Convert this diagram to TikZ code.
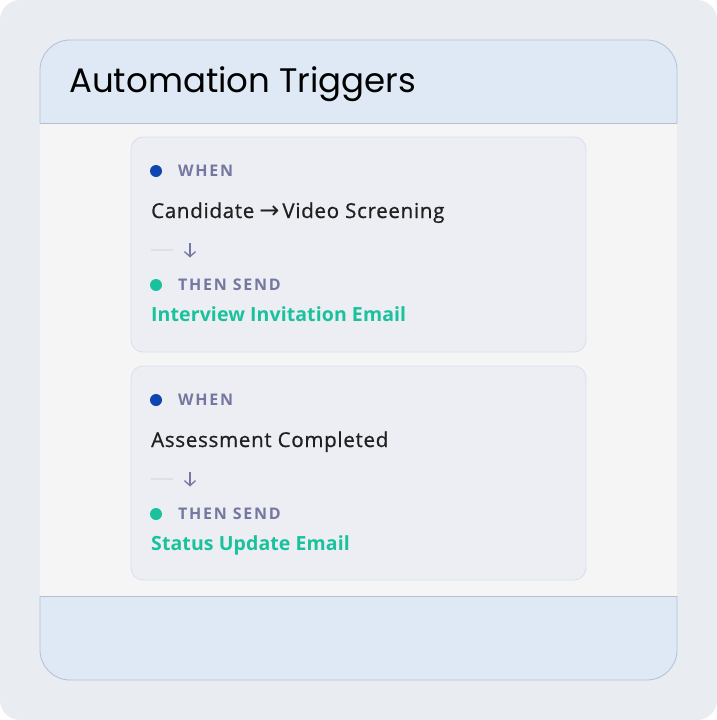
\documentclass[tikz,border=0pt]{standalone}
\usepackage{fontspec}
\setmainfont{Open Sans}
\newfontfamily\headfont{Poppins}
\newfontfamily\symfont{DejaVu Sans}
\usetikzlibrary{arrows.meta}
\definecolor{bgout}{HTML}{E9ECF1}
\definecolor{panelblue}{HTML}{DEE9F5}
\definecolor{panelline}{HTML}{B1C1D3}
\definecolor{bodyfill}{HTML}{F5F5F6}
\definecolor{cardfill}{HTML}{ECEEF3}
\definecolor{cardline}{HTML}{D7DFEE}
\definecolor{labelc}{HTML}{7478A0}
\definecolor{dotblue}{HTML}{0F45AE}
\definecolor{teal}{HTML}{19C29D}
\definecolor{textdark}{HTML}{202020}
\definecolor{dashc}{HTML}{DCE0EA}
\tikzset{
  card/.style={draw=cardline, line width=0.8pt, fill=cardfill, rounded corners=12pt},
  lbl/.style={anchor=base west, inner sep=0pt, text=labelc, font=\fontsize{16}{18}\selectfont\bfseries\addfontfeature{LetterSpace=11}},
  main/.style={anchor=base west, inner sep=0pt, text=textdark, font=\fontsize{20.5}{23}\selectfont\addfontfeature{LetterSpace=3.5,FakeBold=0.8}},
  mail/.style={anchor=base west, inner sep=0pt, text=teal, font=\fontsize{19.5}{22}\selectfont\bfseries\addfontfeature{LetterSpace=0.5}},
  darr/.style={draw=labelc, line width=1.3pt, -{Straight Barb[length=5pt,width=11pt]}},
  dotb/.style={circle, fill=dotblue, minimum size=12pt, inner sep=0pt},
  dott/.style={circle, fill=teal, minimum size=12pt, inner sep=0pt},
  pline/.style={draw=panelline, line width=0.8pt},
}
\begin{document}
\begin{tikzpicture}[x=1pt,y=-1pt]
\useasboundingbox (0,0) rectangle (717,720);
\fill[white] (0,0) rectangle (717,720);
\fill[bgout, rounded corners=20pt] (0,0) rectangle (717,720);
% panel fills
\begin{scope}
  \clip[rounded corners=30pt] (40,40) rectangle (677,680);
  \fill[bodyfill] (40,40) rectangle (677,680);
  \fill[panelblue] (40,40) rectangle (677,123);
  \fill[panelblue] (40,596) rectangle (677,680);
\end{scope}
% panel borders
\draw[pline, rounded corners=30pt] (40,123) -- (40,40) -- (677,40) -- (677,123);
\draw[pline] (40,123) -- (677,123);
\draw[pline] (40,596) -- (677,596);
\draw[pline, rounded corners=30pt] (40,596) -- (40,680) -- (677,680) -- (677,596);
\node[anchor=base west, inner sep=0pt, font=\headfont\fontsize{34}{40}\selectfont, text=black] (title) at (69,92) {Automation Triggers};

% card 1
\draw[card] (131,137) rectangle (586,352);
\node[dotb] (d1) at (156,171) {};
\node[lbl] (w1) at (178,176) {WHEN};
\node[main] (c1) at (151,218) {Candidate\hspace{5pt}{\symfont\fontsize{24}{24}\selectfont →}\hspace{3pt}Video Screening};
\draw[dashc, line width=2pt] (151,250) -- (173,250);
\coordinate (a1s) at (190,243);
\coordinate (a1e) at (190,257.5);
\draw[darr] (a1s) -- (a1e);
\node[dott] (t1) at (156,285) {};
\node[lbl] (s1) at (178,290) {THEN SEND};
\node[mail] (m1) at (151,321.5) {Interview Invitation Email};

% card 2
\draw[card] (131,366) rectangle (586,580);
\node[dotb] (d2) at (156,400) {};
\node[lbl] (w2) at (178,405) {WHEN};
\node[main] (c2) at (151,447) {Assessment Completed};
\draw[dashc, line width=2pt] (151,479) -- (173,479);
\coordinate (a2s) at (190,472);
\coordinate (a2e) at (190,486.5);
\draw[darr] (a2s) -- (a2e);
\node[dott] (t2) at (156,514) {};
\node[lbl] (s2) at (178,519) {THEN SEND};
\node[mail] (m2) at (151,550.5) {Status Update Email};
\end{tikzpicture}
\end{document}
